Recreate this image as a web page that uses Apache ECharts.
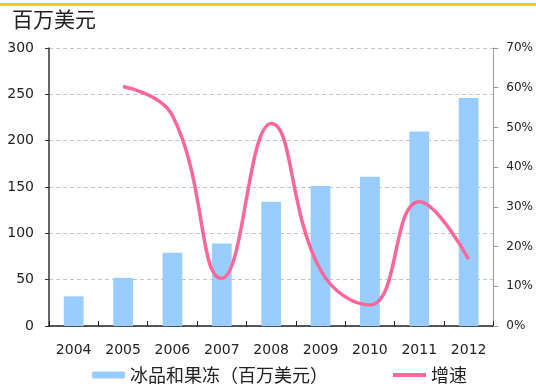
<!DOCTYPE html>
<html>
<head>
<meta charset="utf-8">
<script src="https://cdn.jsdelivr.net/npm/echarts@6/dist/echarts.min.js"></script>
<style>
  html, body { margin: 0; padding: 0; background: #fff; }
  #chart { width: 536px; height: 387px; }
</style>
</head>
<body>
<div id="chart"></div>
<script>
// Years on the category axis
const years = ['2004', '2005', '2006', '2007', '2008', '2009', '2010', '2011', '2012'];
// Ice cream & jelly sales, million USD
const sales = [32, 52, 79, 89, 134, 151, 161, 210, 246];
// Year-on-year growth, percent (no value for the first year)
const growth = [null, 60.3, 53, 12, 51, 14.1, 5.3, 31.3, 16.8];

const barName = '冰品和果冻（百万美元）';
const lineName = '增速';
const unitTitle = '百万美元';

const numFont = 'DejaVu Sans, Verdana, sans-serif';
const cjkFont = 'Noto Sans CJK SC, sans-serif';

const chart = echarts.init(document.getElementById('chart'), null, { renderer: 'canvas' });

chart.setOption({
  animation: false,
  backgroundColor: '#ffffff',
  graphic: [
    { type: 'rect', left: 0, top: 3, shape: { width: 536, height: 3 }, style: { fill: '#FFCC00' } },
    { type: 'text', left: 12, top: 9, style: { text: unitTitle, font: '21px ' + cjkFont, fill: '#222' } }
  ],
  grid: { left: 49, right: 42, top: 48, bottom: 61, containLabel: false },
  legend: [
    {
      data: [barName], left: 92, top: 362, itemWidth: 33, itemHeight: 7, itemGap: 3,
      padding: 0,
      textStyle: { fontFamily: cjkFont, fontSize: 18, color: '#222', lineHeight: 26 }
    },
    {
      data: [{ name: lineName, icon: 'rect' }], left: 393, top: 362, itemWidth: 33, itemHeight: 4, itemGap: 3,
      padding: 0,
      textStyle: { fontFamily: cjkFont, fontSize: 18, color: '#222', lineHeight: 26 }
    }
  ],
  xAxis: {
    type: 'category',
    data: years,
    boundaryGap: true,
    axisLine: { lineStyle: { color: '#222', width: 1.5 } },
    axisTick: { show: true, inside: true, length: 5, interval: 0, lineStyle: { color: '#222' } },
    axisLabel: { color: '#222', fontFamily: numFont, fontSize: 14, margin: 17 }
  },
  yAxis: [
    {
      type: 'value', min: 0, max: 300, interval: 50,
      axisLine: { show: true, lineStyle: { color: '#333', width: 1.5 } },
      axisTick: { show: true, length: 4, lineStyle: { color: '#333' } },
      axisLabel: { color: '#222', fontFamily: numFont, fontSize: 14, margin: 15 },
      splitLine: { show: true, lineStyle: { color: '#C4C4C4', type: [4, 3], width: 1 } }
    },
    {
      type: 'value', min: 0, max: 70, interval: 10,
      axisLine: { show: true, lineStyle: { color: '#999', width: 1 } },
      axisTick: { show: true, length: 5, lineStyle: { color: '#999' } },
      axisLabel: { color: '#222', fontFamily: numFont, fontSize: 12, margin: 13, formatter: '{value}%' },
      splitLine: { show: false }
    }
  ],
  series: [
    {
      name: barName,
      type: 'bar',
      data: sales,
      barWidth: '40%',
      itemStyle: { color: '#99CCFF' }
    },
    {
      name: lineName,
      type: 'line',
      yAxisIndex: 1,
      data: growth,
      smooth: 0.45,
      symbol: 'none',
      lineStyle: { color: '#FF6699', width: 3.5 },
      itemStyle: { color: '#FF6699' }
    }
  ]
});
</script>
</body>
</html>
